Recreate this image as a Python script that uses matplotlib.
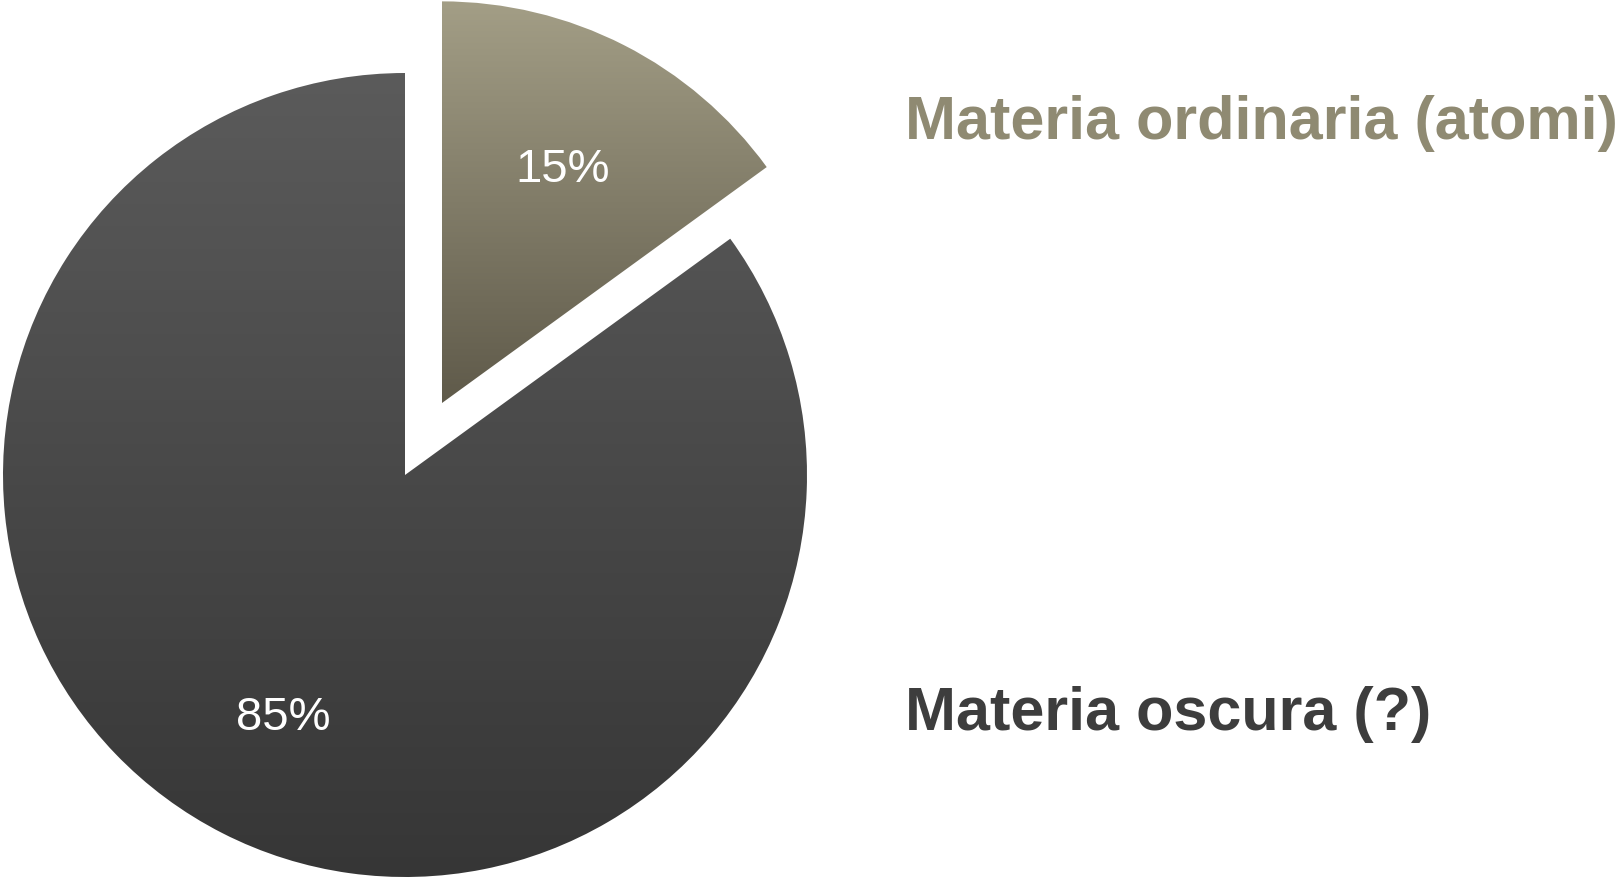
import numpy as np
import matplotlib.pyplot as plt
from matplotlib.colors import LinearSegmentedColormap

labels = ["Materia ordinaria (atomi)", "Materia oscura (?)"]
shares = [15, 85]
explode = [0.2, 0]
top_colors = ["#a39e86", "#5b5b5b"]
bottom_colors = ["#5f5a4a", "#363636"]
label_colors = ["#8f8a72", "#3d3d3d"]

R = 402

fig = plt.figure(figsize=(16.23, 8.8), dpi=100)
ax = fig.add_axes([0, 0, 1, 1])

# pie's explode offset is in data units, so scale it by the radius
wedges, _, autotexts = ax.pie(
    shares, explode=[e * R for e in explode], startangle=90, counterclock=False,
    center=(405, 405), radius=R, frame=True,
    autopct=lambda p: f"{p:.0f}%", pctdistance=0.665,
    textprops=dict(color="white", fontsize=34, family="Liberation Sans"),
)
for t in autotexts:
    t.set_va("center_baseline")

# vertical gradient fill, clipped to each wedge
for w, c_top, c_bot in zip(wedges, top_colors, bottom_colors):
    w.set_facecolor("none")
    w.set_edgecolor("none")
    v = w.get_path().vertices
    cmap = LinearSegmentedColormap.from_list("g", [c_bot, c_top])
    grad = np.linspace(0, 1, 256).reshape(-1, 1)
    im = ax.imshow(grad, cmap=cmap, origin="lower", aspect="auto",
                   extent=[v[:, 0].min(), v[:, 0].max(), v[:, 1].min(), v[:, 1].max()],
                   zorder=1)
    im.set_clip_path(w)

label_y = [880 - 139, 880 - 730]
for lab, col, y in zip(labels, label_colors, label_y):
    ax.text(905, y, lab, color=col, fontsize=44, fontweight="bold",
            family="Liberation Sans", ha="left", va="baseline")

ax.set_xlim(0, 1623)
ax.set_ylim(0, 880)
ax.set_aspect("equal")
ax.axis("off")

fig.savefig("out.png", dpi=100)
